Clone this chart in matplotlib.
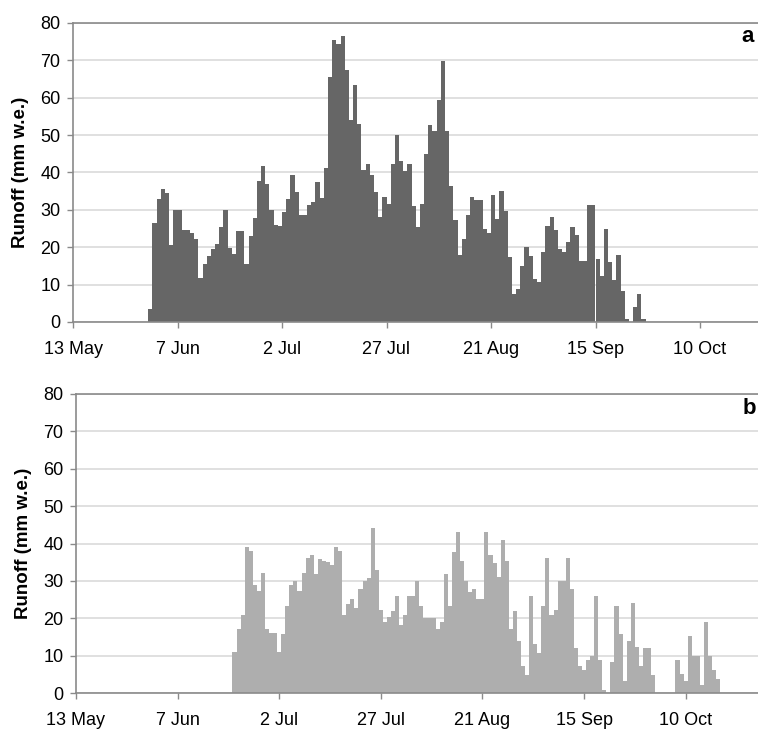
import matplotlib
matplotlib.use("Agg")
import matplotlib.pyplot as plt

plt.rcParams['font.family'] = ['Liberation Sans', 'DejaVu Sans']

# days counted from 13 May
tick_days = [0, 25, 50, 75, 100, 125, 150]
tick_labels = ['13 May', '7 Jun', '2 Jul', '27 Jul', '21 Aug', '15 Sep', '10 Oct']

# panel a: daily runoff, first bar on day 18 (31 May)
start_a = 18
runoff_a = [3.6, 26.5, 33, 35.7, 34.5, 20.7, 30, 30, 24.7, 24.7,
            23.8, 22.2, 11.8, 15.5, 17.6, 19.5, 20.9, 25.3, 30, 19.8,
            18.3, 24.3, 24.3, 15.5, 22.9, 27.7, 37.6, 41.7, 36.9, 30,
            26, 25.6, 29.4, 33, 39.2, 34.7, 28.5, 28.5, 31.4, 32,
            37.4, 33.2, 41.2, 65.6, 75.4, 74.5, 76.5, 67.5, 54.1, 63.5,
            53.1, 40.6, 42.4, 39.2, 34.7, 28.1, 33.5, 31.7, 42.4, 50.1,
            43, 40.3, 42.4, 31.1, 25.3, 31.7, 45, 52.8, 51, 59.5,
            69.8, 51.2, 36.3, 27.4, 17.8, 22.3, 28.5, 33.5, 32.7, 32.7,
            24.9, 23.8, 34.1, 27.6, 35, 29.6, 17.3, 7.6, 8.7, 14.9,
            20.2, 17.6, 11.5, 10.6, 18.6, 25.6, 28, 24.5, 19.6, 18.7,
            21.4, 25.3, 23.3, 16.4, 16.4, 31.4, 31.4, 16.9, 12.2, 24.9,
            16, 11.2, 17.8, 8.2, 0.9, 0, 4, 7.4, 0.9]

# panel b: daily runoff, first bar on day 39 (21 Jun)
start_b = 39
runoff_b = [10.9, 17.1, 21, 39, 37.9, 29, 27.2, 32.1, 17, 16,
            16, 10.9, 15.9, 23.2, 29, 30, 27.2, 32.1, 36.1, 37,
            31.9, 35.9, 35.4, 35.1, 34.3, 39, 37.9, 20.8, 23.9, 25.2,
            22.7, 27.8, 30, 30.8, 44.2, 32.8, 22.1, 19, 20.3, 22,
            25.9, 18.3, 21, 25.9, 25.9, 30, 23.2, 20.1, 20.1, 20.1,
            17.1, 18.9, 31.9, 23.2, 37.6, 43, 35.2, 29.9, 26.9, 27.8,
            25.2, 25.2, 43, 37, 34.8, 31, 41, 35.2, 17.1, 22,
            13.8, 7.1, 4.9, 25.9, 13.2, 10.7, 23.2, 36, 21, 22.3,
            30, 30, 36, 27.8, 12, 7.1, 6.2, 8.9, 10, 25.9,
            8.9, 0.9, 0, 8.2, 23.2, 15.9, 3.1, 13.8, 24.1, 12.3,
            7.3, 12, 12, 4.9, 0, 0, 0, 0, 0, 8.9,
            5.1, 3.1, 15.2, 10, 10, 2.2, 19, 10, 6.2, 3.8]

W, H = 758, 729
fig = plt.figure(figsize=(W / 100, H / 100), dpi=100)

xmax = 175
ax_a = fig.add_axes([73 / W, 407 / H, xmax * 4.18 / W, 299 / H])
ax_b = fig.add_axes([76 / W, 36 / H, xmax * 4.064 / W, 299 / H])

panels = [
    (ax_a, start_a, runoff_a, '#666666', 'edge'),
    (ax_b, start_b, runoff_b, '#aeaeae', 'center'),
]

for ax, start, vals, color, align in panels:
    days = list(range(start, start + len(vals)))
    ax.bar(days, vals, width=1.0, color=color, align=align, linewidth=0)
    ax.set_xlim(0, xmax)
    ax.set_ylim(0, 80)
    ax.set_yticks(range(0, 81, 10))
    ax.set_xticks(tick_days)
    ax.set_xticklabels(tick_labels)
    ax.yaxis.grid(True, color='#dadada', linewidth=1.2)
    ax.set_axisbelow(True)
    for side in ['left', 'bottom', 'top']:
        ax.spines[side].set_color('#8a8a8a')
        ax.spines[side].set_linewidth(1.2)
    ax.spines['right'].set_visible(False)
    ax.tick_params(axis='both', colors='#8a8a8a', labelcolor='black',
                   labelsize=13, length=4, width=1)
    ax.tick_params(axis='x', pad=10)
    ax.tick_params(axis='y', pad=5)
    ax.set_ylabel('Runoff (mm w.e.)', fontsize=13.5, fontweight='bold', labelpad=8)

fig.text(748 / W, 1 - 37 / H, 'a', fontsize=16, fontweight='bold', ha='center', va='center')
fig.text(749 / W, 1 - 408 / H, 'b', fontsize=16, fontweight='bold', ha='center', va='center')

fig.savefig('out.png', dpi=100)
